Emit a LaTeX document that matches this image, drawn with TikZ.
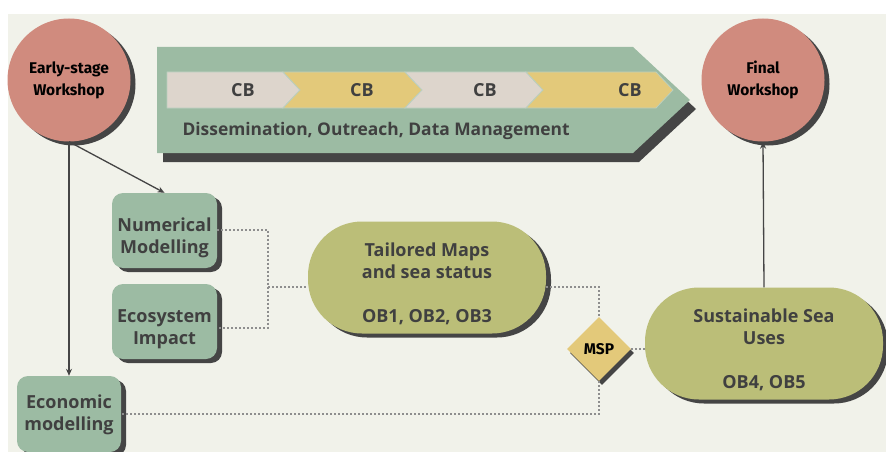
\documentclass[tikz,border=0pt]{standalone}
\usepackage{fontspec}
\setmainfont{Open Sans}
\newfontfamily\rundfont{Fira Sans}
\usetikzlibrary{arrows.meta,shapes.geometric,shadows}

\definecolor{hinter}{HTML}{F1F2EA}
\definecolor{gruen}{HTML}{9CBBA3}
\definecolor{rosa}{HTML}{D08B7E}
\definecolor{oliv}{HTML}{BBBE78}
\definecolor{gelb}{HTML}{E3C97A}
\definecolor{beige}{HTML}{DDD5CC}
\definecolor{schatten}{HTML}{454545}
\definecolor{schrift}{HTML}{404040}
\definecolor{punkt}{HTML}{8E8E8E}

\tikzset{
  schattig/.style={drop shadow={shadow xshift=5pt, shadow yshift=-4pt, fill=schatten, opacity=1}},
  fett/.style={font=\fontsize{18}{22}\selectfont\bfseries},
  kreis/.style={circle, fill=rosa, schattig, minimum size=123pt, inner sep=0pt,
    align=center, font=\rundfont\fontsize{15.5}{22}\selectfont\bfseries, text=black},
  % text height: Text etwas unter die Mitte setzen
  kasten/.style={rectangle, rounded corners=11pt, fill=gruen, schattig, inner sep=0pt,
    minimum width=105pt, minimum height=75pt, align=center, fett, text=schrift,
    text height=50pt},
  oval/.style={rectangle, rounded corners=54pt, fill=oliv, schattig, inner sep=0pt,
    minimum width=238pt, minimum height=112pt, align=center, fett, text=schrift,
    text height=92pt},
  raute/.style={diamond, fill=gelb, minimum size=64pt, inner sep=0pt, text=black,
    font=\rundfont\fontsize{15.5}{16}\selectfont\bfseries,
    drop shadow={shadow xshift=3pt, shadow yshift=-4pt, fill=schatten, opacity=1}},
  pfeil/.style={->, draw=schatten, line width=1.3pt},
  punkte/.style={draw=punkt, dotted, line width=2pt}
}

\begin{document}
\begin{tikzpicture}[x=1pt, y=-1pt, >={Stealth[length=7pt,width=6pt]}]
    % Hintergrund
    \useasboundingbox (0,0) rectangle (886,452);
    \fill[white] (0,0) rectangle (886,452);
    \fill[hinter] (8,14) rectangle (886,452);

    % Banner mit Pfeilspitze
    \fill[gruen, drop shadow={shadow xshift=6pt, shadow yshift=-9pt, fill=schatten, opacity=1}]
        (157,47) -- (633,47) -- (690,100) -- (633,153) -- (157,153) -- cycle;

    % Chevrons CB
    \def\tip{17}
    \foreach \xa/\xb/\n/\farbe/\xt [count=\i] in
        {167/283/0/beige/243, 283/405/17/gelb/362, 405/526/17/beige/485, 526/656/17/gelb/630} {
        \filldraw[fill=\farbe, draw=gruen!70!white, line width=0.8pt]
            (\xa,72) -- (\xb,72) -- ({\xb+\tip},90) -- (\xb,108) -- (\xa,108) -- ({\xa+\n},90) -- cycle;
        \node[fett, text=schrift] (cb\i) at (\xt,90) {CB};
    }
    \node[fett, text=schrift, anchor=west, font=\fontsize{17.4}{22}\selectfont\bfseries]
        (dom) at (179,131) {Dissemination, Outreach, Data Management};

    % Workshops
    \node[kreis] (early) at (69,80) {Early-stage\\Workshop};
    \node[kreis] (final) at (763,80) {Final\\Workshop};

    % Modelle
    \node[kasten] (num) at (164.5,230.5) {Numerical\\Modelling};
    \node[kasten] (eco) at (164.5,321.5) {Ecosystem\\Impact};
    \node[kasten, minimum width=104pt, minimum height=76pt, text height=37pt] (econ) at (69,414) {Economic\\modelling};

    % Ergebnisse
    \node[oval] (maps) at (427,277.5) {Tailored Maps\\and sea status\\[22pt]OB1, OB2, OB3};
    \node[oval] (ssu) at (764,343.5) {Sustainable Sea\\Uses\\[22pt]OB4, OB5};
    \node[raute] (msp) at (599,349) {MSP};

    % Pfeile
    \draw[pfeil] (early.south) -- (num.north);
    \draw[pfeil] (early.south) -- (econ.north);
    \draw[pfeil] (ssu.north) -- (final.south);

    % Punktierte Verbindungen
    \coordinate (knoten) at (268,287);
    \draw[punkte] ([yshift=1pt]num.east) -| (knoten) |- ([yshift=-6pt]eco.east);
    \draw[punkte] (knoten) -- (knoten -| maps.west);
    \draw[punkte] (maps.east |- knoten) -| (msp.north);
    \draw[punkte] (msp.south) |- (econ.east);
    \draw[punkte] (msp.east) -- (msp.east -| ssu.west);
\end{tikzpicture}
\end{document}
